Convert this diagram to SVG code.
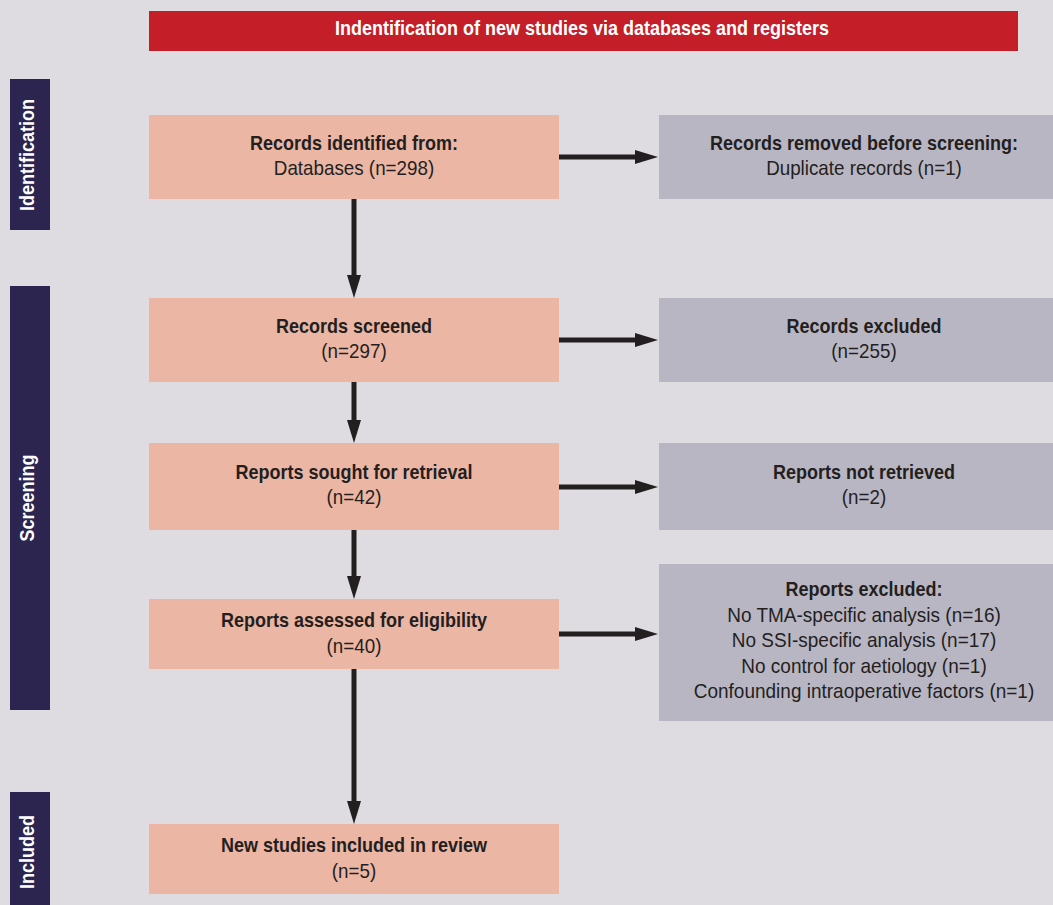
<svg xmlns="http://www.w3.org/2000/svg" width="1053" height="905" viewBox="0 0 1053 905">
<style>
.bg{fill:#dedbe1}
.banner{fill:#c41f29}
.side{fill:#2b2550}
.box{fill:#ecb6a5}
.grey{fill:#b9b6c4}
text{font-family:"Liberation Sans",Arial,sans-serif;font-size:20px;text-anchor:middle;fill:#231f20}
.b{font-weight:bold}
.w{fill:#ffffff;font-weight:bold}
.conn{stroke:#231f20;stroke-width:5;fill:none}
</style>
<defs>
<marker id="ah" markerUnits="userSpaceOnUse" viewBox="0 0 23 14" refX="5" refY="7" markerWidth="23" markerHeight="14" orient="auto">
<path d="M0,0 L23,7 L0,14 z" fill="#231f20"/>
</marker>
</defs>
<rect class="bg" x="0" y="0" width="1053" height="905"/>

<g id="banner">
<rect class="banner" x="149" y="11" width="869" height="40"/>
<text class="w" transform="translate(582 35) scale(.9 1)">Indentification of new studies via databases and registers</text>
</g>

<g id="phase-identification">
<rect class="side" x="10" y="79" width="40" height="151"/>
<text class="w" transform="translate(34 155) rotate(-90) scale(.9 1)">Identification</text>
</g>
<g id="phase-screening">
<rect class="side" x="10" y="286" width="40" height="424"/>
<text class="w" transform="translate(34 498) rotate(-90) scale(.9 1)">Screening</text>
</g>
<g id="phase-included">
<rect class="side" x="10" y="792" width="40" height="120"/>
<text class="w" transform="translate(34 852) rotate(-90) scale(.9 1)">Included</text>
</g>

<g id="records-identified">
<rect class="box" x="149" y="115" width="410" height="84"/>
<text class="b" transform="translate(354 150) scale(.9 1)">Records identified from:</text>
<text transform="translate(354 175) scale(.94 1)">Databases (n=298)</text>
</g>
<g id="records-removed">
<rect class="grey" x="659" y="115" width="410" height="84"/>
<text class="b" transform="translate(864 150) scale(.9 1)">Records removed before screening:</text>
<text transform="translate(864 175) scale(.94 1)">Duplicate records (n=1)</text>
</g>
<g id="records-screened">
<rect class="box" x="149" y="298" width="410" height="84"/>
<text class="b" transform="translate(354 333) scale(.9 1)">Records screened</text>
<text transform="translate(354 358) scale(.94 1)">(n=297)</text>
</g>
<g id="records-excluded">
<rect class="grey" x="659" y="298" width="410" height="84"/>
<text class="b" transform="translate(864 333) scale(.9 1)">Records excluded</text>
<text transform="translate(864 358) scale(.94 1)">(n=255)</text>
</g>
<g id="reports-sought">
<rect class="box" x="149" y="443" width="410" height="87"/>
<text class="b" transform="translate(354 479) scale(.9 1)">Reports sought for retrieval</text>
<text transform="translate(354 504) scale(.94 1)">(n=42)</text>
</g>
<g id="reports-not-retrieved">
<rect class="grey" x="659" y="443" width="410" height="87"/>
<text class="b" transform="translate(864 479) scale(.9 1)">Reports not retrieved</text>
<text transform="translate(864 504) scale(.94 1)">(n=2)</text>
</g>
<g id="reports-assessed">
<rect class="box" x="149" y="599" width="410" height="70"/>
<text class="b" transform="translate(354 627) scale(.9 1)">Reports assessed for eligibility</text>
<text transform="translate(354 653) scale(.94 1)">(n=40)</text>
</g>
<g id="reports-excluded">
<rect class="grey" x="659" y="564" width="410" height="157"/>
<text class="b" transform="translate(864 596) scale(.9 1)">Reports excluded:</text>
<text transform="translate(864 622) scale(.95 1)">No TMA-specific analysis (n=16)</text>
<text transform="translate(864 647) scale(.95 1)">No SSI-specific analysis (n=17)</text>
<text transform="translate(864 673) scale(.95 1)">No control for aetiology (n=1)</text>
<text transform="translate(864 698) scale(.95 1)">Confounding intraoperative factors (n=1)</text>
</g>
<g id="studies-included">
<rect class="box" x="149" y="824" width="410" height="70"/>
<text class="b" transform="translate(354 852) scale(.9 1)">New studies included in review</text>
<text transform="translate(354 878) scale(.94 1)">(n=5)</text>
</g>

<g id="connectors">
<line class="conn" x1="354" y1="199" x2="354" y2="280" marker-end="url(#ah)"/>
<line class="conn" x1="354" y1="382" x2="354" y2="425" marker-end="url(#ah)"/>
<line class="conn" x1="354" y1="530" x2="354" y2="581" marker-end="url(#ah)"/>
<line class="conn" x1="354" y1="669" x2="354" y2="806" marker-end="url(#ah)"/>
<line class="conn" x1="559" y1="157" x2="640" y2="157" marker-end="url(#ah)"/>
<line class="conn" x1="559" y1="340" x2="640" y2="340" marker-end="url(#ah)"/>
<line class="conn" x1="559" y1="487" x2="640" y2="487" marker-end="url(#ah)"/>
<line class="conn" x1="559" y1="634" x2="640" y2="634" marker-end="url(#ah)"/>
</g>
</svg>
